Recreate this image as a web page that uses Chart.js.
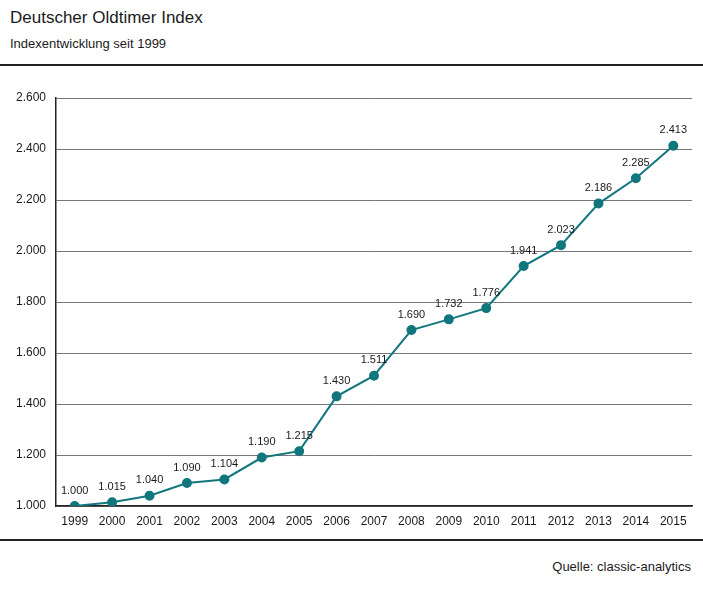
<!DOCTYPE html>
<html>
<head>
<meta charset="utf-8">
<script src="https://cdn.jsdelivr.net/npm/chart.js@4"></script>
<style>
  html, body { margin: 0; padding: 0; background: #fff; }
  body { width: 703px; height: 591px; position: relative; overflow: hidden;
         font-family: "Liberation Sans Narrow", "Liberation Sans", Arial, sans-serif; color: #1a1a1a; }
  #title { position: absolute; left: 10px; top: 8px; font-size: 17px; }
  #subtitle { position: absolute; left: 10px; top: 36px; font-size: 13px; }
  .rule { position: absolute; left: 0; width: 703px; height: 1.5px; background: #222; }
  #source { position: absolute; right: 12px; top: 559px; font-size: 13px; }
  #wrap { position: absolute; left: 0; top: 80px; width: 703px; height: 456px; }
</style>
</head>
<body>
<div id="title">Deutscher Oldtimer Index</div>
<div id="subtitle">Indexentwicklung seit 1999</div>
<div class="rule" style="top:64px"></div>
<div id="wrap"><canvas id="chart"></canvas></div>
<div class="rule" style="top:539px"></div>
<div id="source">Quelle: classic-analytics</div>
<script>
const years = ["1999", "2000", "2001", "2002", "2003", "2004", "2005", "2006", "2007",
  "2008", "2009", "2010", "2011", "2012", "2013", "2014", "2015"];
const indexValues = [1000, 1015, 1040, 1090, 1104, 1190, 1215, 1430, 1511,
  1690, 1732, 1776, 1941, 2023, 2186, 2285, 2413];
const yTicks = [1000, 1200, 1400, 1600, 1800, 2000, 2200, 2400, 2600];

const FONT = "'Liberation Sans Narrow', 'Liberation Sans', Arial, sans-serif";
const TEAL = "#11767d";

// German thousands separator
const fmt = (v) => {
  const s = String(Math.round(v));
  return s.length > 3 ? s.slice(0, -3) + "." + s.slice(-3) : s;
};

// value labels above each point
const pointLabels = {
  id: "pointLabels",
  afterDatasetsDraw(chart) {
    const { ctx } = chart;
    const meta = chart.getDatasetMeta(0);
    ctx.save();
    ctx.font = "11px " + FONT;
    ctx.fillStyle = "#1a1a1a";
    ctx.textAlign = "center";
    ctx.textBaseline = "bottom";
    meta.data.forEach((pt, i) => {
      ctx.fillText(fmt(indexValues[i]), pt.x, pt.y - 10);
    });
    ctx.restore();
  }
};

new Chart(document.getElementById("chart"), {
  type: "line",
  data: {
    labels: years,
    datasets: [{
      data: indexValues,
      borderColor: TEAL,
      backgroundColor: TEAL,
      borderWidth: 2,
      pointRadius: 4,
      pointHoverRadius: 4,
      tension: 0
    }]
  },
  options: {
    responsive: true,
    maintainAspectRatio: false,
    animation: false,
    layout: { padding: { top: 18, right: 11, left: 0, bottom: 0 } },
    plugins: { legend: { display: false }, tooltip: { enabled: false } },
    scales: {
      x: {
        offset: true,
        grid: { display: false, drawTicks: false },
        border: { display: true, color: "#222", width: 1.5 },
        ticks: { color: "#1a1a1a", font: { family: FONT, size: 12 }, padding: 8, maxRotation: 0, autoSkip: false },
        afterFit(scale) { scale.height = 30; }
      },
      y: {
        min: 1000,
        max: 2600,
        afterBuildTicks(scale) { scale.ticks = yTicks.map(v => ({ value: v })); },
        grid: { color: "#777", lineWidth: 1, drawTicks: false },
        border: { display: true, color: "#222", width: 1.5 },
        ticks: { color: "#1a1a1a", font: { family: FONT, size: 12 }, padding: 10, callback: (v) => fmt(v) },
        afterFit(scale) { scale.width = 56; }
      }
    }
  },
  plugins: [pointLabels]
});
</script>
</body>
</html>
